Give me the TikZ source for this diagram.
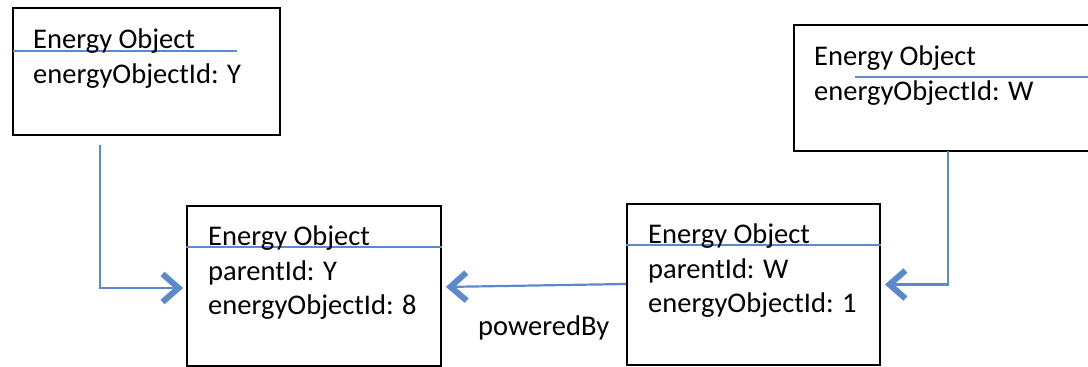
\documentclass[tikz,border=0pt]{standalone}
\usepackage{fontspec}
\setmainfont{Carlito}
\usetikzlibrary{arrows.meta}
\definecolor{offblue}{HTML}{5A8ACB}
\begin{document}
\begin{tikzpicture}[x=1pt,y=-1pt,
  box/.style={draw=black,line width=1.8pt,minimum width=#1,inner sep=0pt},
  lbl/.style={anchor=base west,inner sep=0pt,font=\fontsize{28.5}{32}\selectfont},
  sep/.style={draw=offblue,line width=1.5pt},
  conn/.style={draw=offblue,line width=2.2pt,-{Straight Barb[length=16pt,width=28pt,line width=6pt]}}]
\useasboundingbox (0,0) rectangle (1088,367);
\clip (0,0) rectangle (1088,367);
% boxes
\node[box=267pt,minimum height=127pt] (A) at (146.5,71.5) {};
\node[box=306pt,minimum height=126pt] (B) at (947,88) {};
\node[box=254pt,minimum height=160pt] (C) at (314,286) {};
\node[box=253pt,minimum height=161pt] (D) at (753.5,284.5) {};
% separator lines
\coordinate (a1) at (13,51);  \coordinate (a2) at (237,51);
\coordinate (b1) at (855,77); \coordinate (b2) at (1095,77);
\draw[sep] (a1) -- (a2);
\draw[sep] (b1) -- (b2);
\draw[sep] (C.west |- 0,247) -- (C.east |- 0,247);
\draw[sep] (D.west |- 0,245) -- (D.east |- 0,245);
% texts
\node[lbl] (A1) at (33,48) {Energy Object};
\node[lbl] (A2) at (33,83) {energyObjectId: Y};
\node[lbl] (B1) at (814,65) {Energy Object};
\node[lbl] (B2) at (814,100) {energyObjectId: W};
\node[lbl] (C1) at (208,245) {Energy Object};
\node[lbl] (C2) at (208,280) {parentId: Y};
\node[lbl] (C3) at (208,314) {energyObjectId: 8};
\node[lbl] (D1) at (648,243) {Energy Object};
\node[lbl] (D2) at (648,278) {parentId: W};
\node[lbl] (D3) at (648,312) {energyObjectId: 1};
\node[lbl] (P) at (478,335) {poweredBy};
% connectors
\coordinate (ca) at (100,145);
\coordinate (cb) at (948,151);
\draw[conn,shorten >=3pt] (ca) |- ([yshift=-2pt]C.west);
\draw[conn,shorten >=4pt] ([yshift=0.5pt]D.west) -- ([yshift=-1pt]C.east);
\draw[conn,shorten >=4pt] (cb) |- (D.east);
\end{tikzpicture}
\end{document}
